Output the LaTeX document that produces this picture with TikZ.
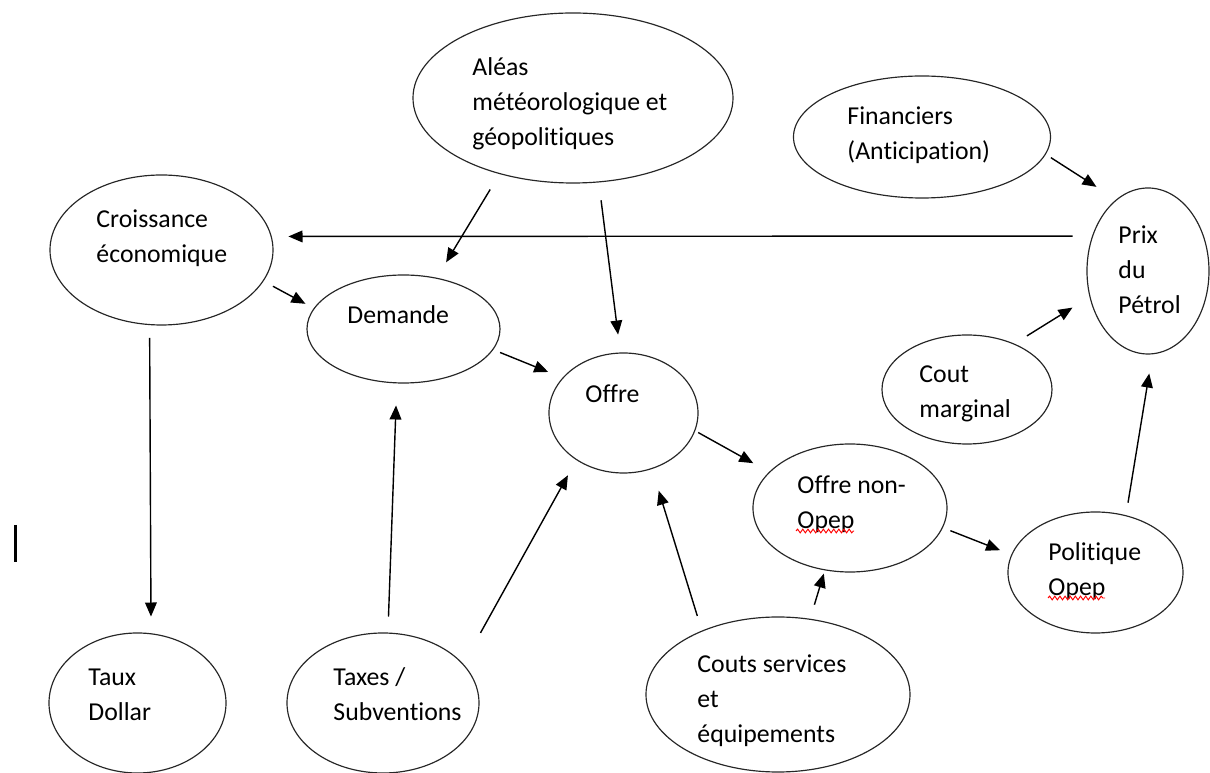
\documentclass[tikz,border=0pt]{standalone}
\usepackage{fontspec}
\setmainfont{Carlito}[Ligatures=NoCommon]
\usetikzlibrary{shapes.geometric,arrows.meta,decorations.pathmorphing}

\begin{document}
\begin{tikzpicture}[x=0.015cm,y=-0.015cm,
    bulle/.style={draw=black!85,line width=0.5pt,ellipse,inner sep=0pt},
    txt/.style={anchor=north west,inner sep=0pt,align=left,font=\fontsize{11}{14.9}\selectfont},
    fleche/.style={line width=0.6pt,-{Triangle[length=6pt,width=5pt]}},
    souligne/.style={red,line width=0.4pt,decorate,decoration={snake,amplitude=0.8pt,segment length=2.2pt}}]
          \useasboundingbox (0,0) rectangle (1210,773);
          % ellipses
          \node[bulle,minimum width=4.8cm,minimum height=2.55cm] (ales) at (573,98) {};
          \node[bulle,minimum width=3.855cm,minimum height=1.83cm] (fin) at (922,137) {};
          \node[bulle,minimum width=3.345cm,minimum height=2.25cm] (crois) at (161.5,250) {};
          \node[bulle,minimum width=1.83cm,minimum height=2.49cm] (prix) at (1148,271) {};
          \node[bulle,minimum width=2.895cm,minimum height=1.62cm] (dem) at (403.5,329) {};
          \node[bulle,minimum width=2.235cm,minimum height=1.8cm] (offre) at (623.5,413) {};
          \node[bulle,minimum width=2.55cm,minimum height=1.635cm] (cout) at (967,389.5) {};
          \node[bulle,minimum width=2.91cm,minimum height=1.92cm] (nonopep) at (850,508) {};
          \node[bulle,minimum width=2.625cm,minimum height=1.815cm] (pol) at (1095.5,572.5) {};
          \node[bulle,minimum width=2.655cm,minimum height=2.1cm] (taux) at (137.5,703) {};
          \node[bulle,minimum width=2.88cm,minimum height=2.1cm] (taxes) at (383,703) {};
          \node[bulle,minimum width=3.96cm,minimum height=2.325cm] (couts) at (778,694.5) {};
          % textes
          \node[txt] (t-ales) at (472,50.6) {\strut Aléas\\météorologique et\\géopolitiques};
          \node[txt] (t-fin) at (847,99.6) {\strut Financiers\\(Anticipation)};
          \node[txt] (t-crois) at (96,202.6) {\strut Croissance\\économique};
          \node[txt] (t-prix) at (1118,218.6) {\strut Prix\\du\\Pétrol};
          \node[txt] (t-dem) at (347,298.6) {\strut Demande};
          \node[txt] (t-offre) at (585,377.6) {\strut Offre};
          \node[txt] (t-cout) at (919,357.6) {\strut Cout\\marginal};
          \node[txt] (t-nonopep) at (797,468.6) {\strut Offre non-\\Opep};
          \node[txt] (t-pol) at (1048,535.6) {\strut Politique\\Opep};
          \node[txt] (t-taux) at (88,660.6) {\strut Taux\\Dollar};
          \node[txt] (t-taxes) at (333,660.6) {\strut Taxes /\\Subventions};
          \node[txt] (t-couts) at (697,647.6) {\strut Couts services\\et\\équipements};
          \draw[souligne] (796,531) -- (854,531);
          \draw[souligne] (1048,598) -- (1105,598);
          % fleches
          \draw[fleche,shorten <=0.29cm,shorten >=0.25cm] (prix.148.1) -- (crois.7);
          \draw[fleche,shorten <=0.09cm,shorten >=0.35cm] (fin.-8.2) -- (prix.114.8);
          \draw[fleche,shorten <=0.27cm,shorten >=0.27cm] (ales.-134.3) -- (dem.57.6);
          \draw[fleche,shorten <=0.27cm,shorten >=0.27cm] (ales.-73.7) -- (offre.93);
          \draw[fleche,shorten <=0.16cm,shorten >=0.14cm] (crois.-17.5) -- (dem.167.8);
          \draw[fleche,shorten <=0.19cm,shorten >=0.25cm] (crois.-99.5) -- (taux.79.8);
          \draw[fleche,shorten <=0.11cm,shorten >=0.23cm] (dem.-13.4) -- (offre.150.8);
          \draw[fleche,shorten <=0.05cm,shorten >=0.27cm] (offre.-14.6) -- (nonopep.156.5);
          \draw[fleche,shorten <=0.24cm,shorten >=0.33cm] (taxes.86.4) -- (dem.-97);
          \draw[fleche,shorten <=0.53cm,shorten >=0.26cm] (taxes.26.1) -- (offre.-135.2);
          \draw[fleche,shorten <=0.23cm,shorten >=0.34cm] (couts.140.5) -- (offre.-63.3);
          \draw[fleche,shorten <=0.22cm,shorten >=0.05cm] (couts.67.9) -- (nonopep.-112.8);
          \draw[fleche,shorten <=0.12cm,shorten >=0.18cm] (nonopep.-12.2) -- (pol.168.6);
          \draw[fleche,shorten <=0.19cm,shorten >=0.29cm] (pol.62.7) -- (prix.-87.1);
          \draw[fleche,shorten <=0.22cm,shorten >=0.30cm] (cout.44.6) -- (prix.-156.3);
          % curseur
          \draw[line width=1.7pt] (15.5,525) -- (15.5,562);
\end{tikzpicture}
\end{document}
